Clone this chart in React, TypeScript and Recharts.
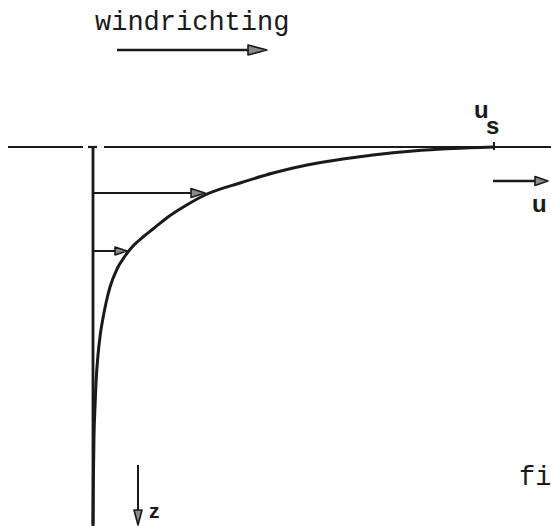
import { ComposedChart, Line, Scatter, XAxis, YAxis } from 'recharts'

// u = horizontal velocity, z = depth below the surface (positive downward)
const profileU = [0, 0.4, 1, 2, 3, 5, 7.5, 10, 13, 17, 24, 32, 40, 50, 60, 75, 92, 112, 147, 180, 214, 250, 280, 320, 360, 400]
const profileZ = [380, 330, 290, 260, 236, 208, 186, 171, 156, 140, 122, 109, 99, 90, 82, 70, 59, 48, 36, 26, 18, 12, 8, 4, 1.5, 0]

const surfaceSegments = [
  [-85, -10],
  [-5, 4],
  [11, 458],
]

// velocity arrows: [uStart, uEnd, z]
const velocityArrows = [
  [0, 102, 46],
  [0, 28, 104],
]
const windArrow = [24, 160, -97]
const uArrow = [400, 445, 34]
const zArrow = [45, 318, 366]
const usTick = [401, -5, 3]

const arrowHeads = [
  { u: 174, z: -97, dir: 'right', len: 19, half: 5 },
  { u: 112, z: 46, dir: 'right', len: 14, half: 4.5 },
  { u: 34, z: 104, dir: 'right', len: 12, half: 4 },
  { u: 455, z: 34, dir: 'right', len: 13, half: 4.5 },
  { u: 45, z: 378, dir: 'down', len: 15, half: 4 },
]

const labels = [
  { u: 2, z: -117, text: 'windrichting', kind: 'mono' },
  { u: 426, z: 338, text: 'fi', kind: 'mono' },
  { u: 381, z: -29, text: 'u', kind: 'sans' },
  { u: 393, z: -13, text: 's', kind: 'sans' },
  { u: 439, z: 65, text: 'u', kind: 'sans' },
  { u: 56, z: 371, text: 'z', kind: 'small' },
]

const INK = '#1a1a1a'

const profile = profileU.map((u, i) => ({ u, z: profileZ[i] }))

function ArrowHead(props: any) {
  const { cx, cy, payload } = props
  const { dir, len, half } = payload
  const pts =
    dir === 'down'
      ? `${cx},${cy} ${cx - half},${cy - len} ${cx + half},${cy - len}`
      : `${cx},${cy} ${cx - len},${cy - half} ${cx - len},${cy + half}`
  return <polygon points={pts} fill="#8a8a8a" stroke={INK} strokeWidth={1.6} strokeLinejoin="round" />
}

function TextMark(props: any) {
  const { cx, cy, payload } = props
  const style =
    payload.kind === 'mono'
      ? { fontFamily: '"Liberation Mono", monospace', fontSize: 27, fontWeight: 400 }
      : payload.kind === 'sans'
        ? { fontFamily: '"Liberation Sans", Arial, sans-serif', fontSize: 24, fontWeight: 700 }
        : { fontFamily: '"Liberation Sans", Arial, sans-serif', fontSize: 21, fontWeight: 700 }
  return (
    <text x={cx} y={cy} fill={INK} {...style}>
      {payload.text}
    </text>
  )
}

export default function App() {
  return (
    <div style={{ position: 'absolute', left: 0, top: 0, background: '#fff' }}>
      <ComposedChart width={551} height={526} margin={{ top: 0, right: 0, bottom: 0, left: 0 }}>
        <XAxis type="number" dataKey="u" domain={[-93, 458]} allowDataOverflow hide />
        <YAxis type="number" dataKey="z" domain={[-147, 379]} allowDataOverflow reversed hide />

        {surfaceSegments.map(([a, b], i) => (
          <Line
            key={`surface-${i}`}
            data={[{ u: a, z: 0 }, { u: b, z: 0 }]}
            dataKey="z"
            type="linear"
            stroke={INK}
            strokeWidth={2.2}
            dot={false}
            activeDot={false}
            isAnimationActive={false}
          />
        ))}

        <Line
          data={[{ u: 0, z: 0 }, { u: 0, z: 377 }]}
          dataKey="z"
          type="linear"
          stroke={INK}
          strokeWidth={2.8}
          dot={false}
          activeDot={false}
          isAnimationActive={false}
        />

        <Line
          data={[{ u: usTick[0], z: usTick[1] }, { u: usTick[0], z: usTick[2] }]}
          dataKey="z"
          type="linear"
          stroke={INK}
          strokeWidth={2}
          dot={false}
          activeDot={false}
          isAnimationActive={false}
        />

        {velocityArrows.map(([a, b, z], i) => (
          <Line
            key={`vel-${i}`}
            data={[{ u: a, z }, { u: b, z }]}
            dataKey="z"
            type="linear"
            stroke={INK}
            strokeWidth={2}
            dot={false}
            activeDot={false}
            isAnimationActive={false}
          />
        ))}

        <Line
          data={[{ u: windArrow[0], z: windArrow[2] }, { u: windArrow[1], z: windArrow[2] }]}
          dataKey="z"
          type="linear"
          stroke={INK}
          strokeWidth={2.4}
          dot={false}
          activeDot={false}
          isAnimationActive={false}
        />
        <Line
          data={[{ u: uArrow[0], z: uArrow[2] }, { u: uArrow[1], z: uArrow[2] }]}
          dataKey="z"
          type="linear"
          stroke={INK}
          strokeWidth={2.4}
          dot={false}
          activeDot={false}
          isAnimationActive={false}
        />
        <Line
          data={[{ u: zArrow[0], z: zArrow[1] }, { u: zArrow[0], z: zArrow[2] }]}
          dataKey="z"
          type="linear"
          stroke={INK}
          strokeWidth={2}
          dot={false}
          activeDot={false}
          isAnimationActive={false}
        />

        <Line
          data={profile}
          dataKey="z"
          type="monotone"
          stroke={INK}
          strokeWidth={3}
          dot={false}
          activeDot={false}
          isAnimationActive={false}
        />

        <Scatter data={arrowHeads} dataKey="z" shape={ArrowHead} isAnimationActive={false} />
        <Scatter data={labels} dataKey="z" shape={TextMark} isAnimationActive={false} />
      </ComposedChart>
    </div>
  )
}
